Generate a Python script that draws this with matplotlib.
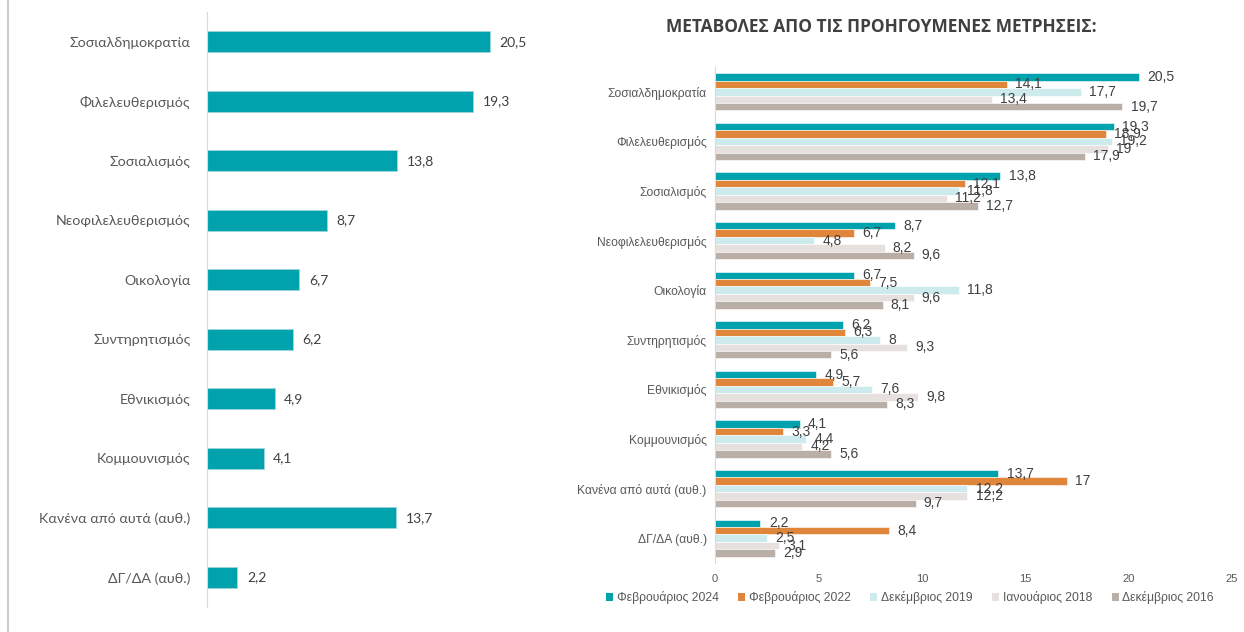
import matplotlib
matplotlib.use('Agg')
from matplotlib import pyplot as plt
from matplotlib.lines import Line2D
from matplotlib.patches import Patch
import numpy as np

# categories, top to bottom
categories = ['Σοσιαλδημοκρατία', 'Φιλελευθερισμός', 'Σοσιαλισμός', 'Νεοφιλελευθερισμός',
              'Οικολογία', 'Συντηρητισμός', 'Εθνικισμός', 'Κομμουνισμός',
              'Κανένα από αυτά (αυθ.)', 'ΔΓ/ΔΑ (αυθ.)']

feb_2024 = [20.5, 19.3, 13.8, 8.7, 6.7, 6.2, 4.9, 4.1, 13.7, 2.2]
feb_2022 = [14.1, 18.9, 12.1, 6.7, 7.5, 6.3, 5.7, 3.3, 17, 8.4]
dec_2019 = [17.7, 19.2, 11.8, 4.8, 11.8, 8, 7.6, 4.4, 12.2, 2.5]
jan_2018 = [13.4, 19, 11.2, 8.2, 9.6, 9.3, 9.8, 4.2, 12.2, 3.1]
dec_2016 = [19.7, 17.9, 12.7, 9.6, 8.1, 5.6, 8.3, 5.6, 9.7, 2.9]

series_names = ['Φεβρουάριος 2024', 'Φεβρουάριος 2022', 'Δεκέμβριος 2019',
                'Ιανουάριος 2018', 'Δεκέμβριος 2016']
series_colors = ['#00A3AD', '#E0863A', '#CDEBEC', '#E6E1DE', '#B9AFA7']

x_ticks = [0, 5, 10, 15, 20, 25]


def fmt(v):
    # greek decimal comma
    s = ('%g' % v)
    return s.replace('.', ',')


fig = plt.figure(figsize=(12.44, 6.32), dpi=100)

# page border on the left
fig.add_artist(Line2D([8 / 1244, 8 / 1244], [0, 1], transform=fig.transFigure,
                      color='#D0CCCA', lw=1.5))

left_font = ['Lato', 'DejaVu Sans']
right_font = ['Liberation Sans', 'DejaVu Sans']

# ---- left chart: latest measurement ----
ax1 = fig.add_axes([207 / 1244, 25 / 632, 345 / 1244, 595 / 632])
y = np.arange(len(categories))
ax1.barh(y, feb_2024, height=0.35, color='#00A3AD', edgecolor='#9ED8DC', lw=0.6)
for yi, v in zip(y, feb_2024):
    ax1.text(v + 0.7, yi, fmt(v), va='center', ha='left', fontsize=10,
             color='#404040', family=left_font)
ax1.set_xlim(0, 25)
ax1.set_ylim(len(categories) - 0.5, -0.5)
ax1.set_yticks(y)
ax1.set_yticklabels(categories, family=left_font, fontsize=10.3, color='#595959')
ax1.set_xticks([])
ax1.tick_params(axis='y', length=0, pad=12)
for s in ['top', 'right', 'bottom']:
    ax1.spines[s].set_visible(False)
ax1.spines['left'].set_color('#D9D9D9')

# ---- right chart: comparison with previous measurements ----
ax2 = fig.add_axes([715 / 1244, 69 / 632, 517 / 1244, 496 / 632])
all_series = [feb_2024, feb_2022, dec_2019, jan_2018, dec_2016]
bh = 0.15
n = len(all_series)
for i, (vals, col) in enumerate(zip(all_series, series_colors)):
    offs = (i - (n - 1) / 2) * bh
    ax2.barh(y + offs, vals, height=bh, color=col, edgecolor='white', lw=0.4)
    for yi, v in zip(y, vals):
        ax2.text(v + 0.4, yi + offs, fmt(v), va='center', ha='left', fontsize=10,
                 color='#404040', family=right_font)
ax2.set_xlim(0, 25)
ax2.set_ylim(len(categories) - 0.5, -0.5)
ax2.set_yticks(y)
ax2.set_yticklabels(categories, family=right_font, fontsize=8.7, color='#595959')
ax2.set_xticks(x_ticks)
ax2.set_xticklabels([str(t) for t in x_ticks], family=right_font, fontsize=8,
                    color='#595959')
ax2.tick_params(axis='both', length=0)
ax2.tick_params(axis='x', pad=8)
ax2.tick_params(axis='y', pad=6)
for s in ['top', 'right', 'bottom']:
    ax2.spines[s].set_visible(False)
ax2.spines['left'].set_color('#D9D9D9')

fig.text(881 / 1244, 1 - 27 / 632, 'ΜΕΤΑΒΟΛΕΣ ΑΠΟ ΤΙΣ ΠΡΟΗΓΟΥΜΕΝΕΣ ΜΕΤΡΗΣΕΙΣ:',
         ha='center', va='center', fontsize=12.5, fontweight='bold',
         color='#404040', family=['Open Sans', 'DejaVu Sans'])

handles = [Patch(facecolor=c, edgecolor='none') for c in series_colors]
fig.legend(handles, series_names, loc='center', bbox_to_anchor=(910 / 1244, 1 - 598 / 632),
           ncol=5, frameon=False, handlelength=0.6, handleheight=0.6, handletextpad=0.3,
           columnspacing=1.6, prop={'family': right_font, 'size': 8.7},
           labelcolor='#595959')

fig.savefig('out.png', dpi=100, facecolor='white')
